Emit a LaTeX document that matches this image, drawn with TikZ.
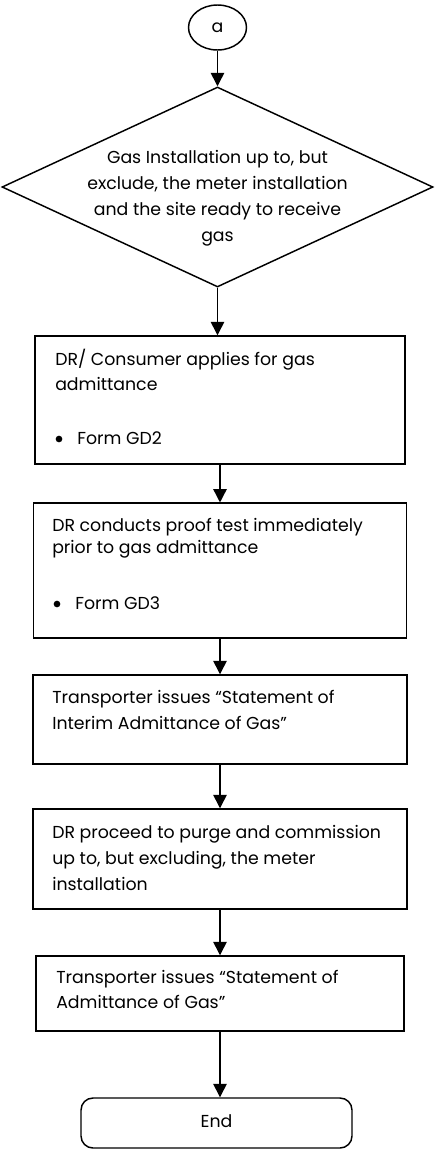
\documentclass[tikz,border=0pt]{standalone}
\usepackage{fontspec}
\setmainfont{Poppins}
\usetikzlibrary{shapes.geometric,arrows.meta}
\begin{document}
\begin{tikzpicture}[x=0.75pt,y=-0.75pt,
  shape line/.style={draw=black,line width=1.1pt,inner sep=0pt},
  stepbox/.style={shape line,rectangle},
  txt/.style={inner sep=0pt,font=\fontsize{13}{19.5}\selectfont,align=left,anchor=north west},
  bul/.style={circle,fill=black,inner sep=0pt,minimum size=5pt},
  arr/.style={line width=1.1pt,-{Triangle[length=10pt,width=10pt]}}]
\useasboundingbox (0,0) rectangle (435,1150);
\node[shape line,ellipse,minimum width=43.5pt,minimum height=33.75pt,font=\fontsize{13}{15}\selectfont] (a) at (217.5,27.5) {a};
\node[shape line,diamond,minimum width=323.25pt,minimum height=150pt] (dia) at (217.5,187) {};
\node[txt,align=center,anchor=north] (diat) at (217.5,150) {Gas Installation up to, but\\exclude, the meter installation\\and the site ready to receive\\gas};
\node[stepbox,minimum width=277.5pt,minimum height=96pt] (b1) at (220,400) {};
\node[txt,font=\fontsize{13}{18.75}\selectfont] (b1t) at (55,349) {DR/ Consumer applies for gas\\admittance};
\node[bul] (b1b) at (59,439) {};
\node[txt] (b1f) at (77,431) {Form GD2};
\node[stepbox,minimum width=280pt,minimum height=101.25pt] (b2) at (220,570.7) {};
\node[txt,font=\fontsize{13}{16.5}\selectfont] (b2t) at (52,518) {DR conducts proof test immediately\\prior to gas admittance};
\node[bul] (b2b) at (57,604) {};
\node[txt] (b2f) at (75,596) {Form GD3};
\node[stepbox,minimum width=280.5pt,minimum height=66.75pt] (b3) at (220,719.5) {};
\node[txt] (b3t) at (52,690) {Transporter issues “Statement of\\Interim Admittance of Gas”};
\node[stepbox,minimum width=280.5pt,minimum height=75pt] (b4) at (220,859) {};
\node[txt] (b4t) at (52,825) {DR proceed to purge and commission\\up to, but excluding, the meter\\installation};
\node[stepbox,minimum width=276pt,minimum height=56.25pt] (b5) at (220,993.5) {};
\node[txt,font=\fontsize{13}{18.75}\selectfont] (b5t) at (56,970) {Transporter issues “Statement of\\Admittance of Gas”};
\node[stepbox,rounded corners=9pt,minimum width=203.25pt,minimum height=37.5pt,font=\fontsize{13}{15}\selectfont] (end) at (216.5,1123) {\raisebox{3pt}{End}};
\draw[arr] (a) -- (dia);
\draw[arr] (dia.south) -- (dia.south |- b1.north);
\draw[arr] (b1) -- (b2);
\draw[arr] (b2) -- (b3);
\draw[arr] (b3) -- (b4);
\draw[arr] (b4) -- (b5);
\draw[arr] (b5.south) -- (b5.south |- end.north);
\end{tikzpicture}
\end{document}
